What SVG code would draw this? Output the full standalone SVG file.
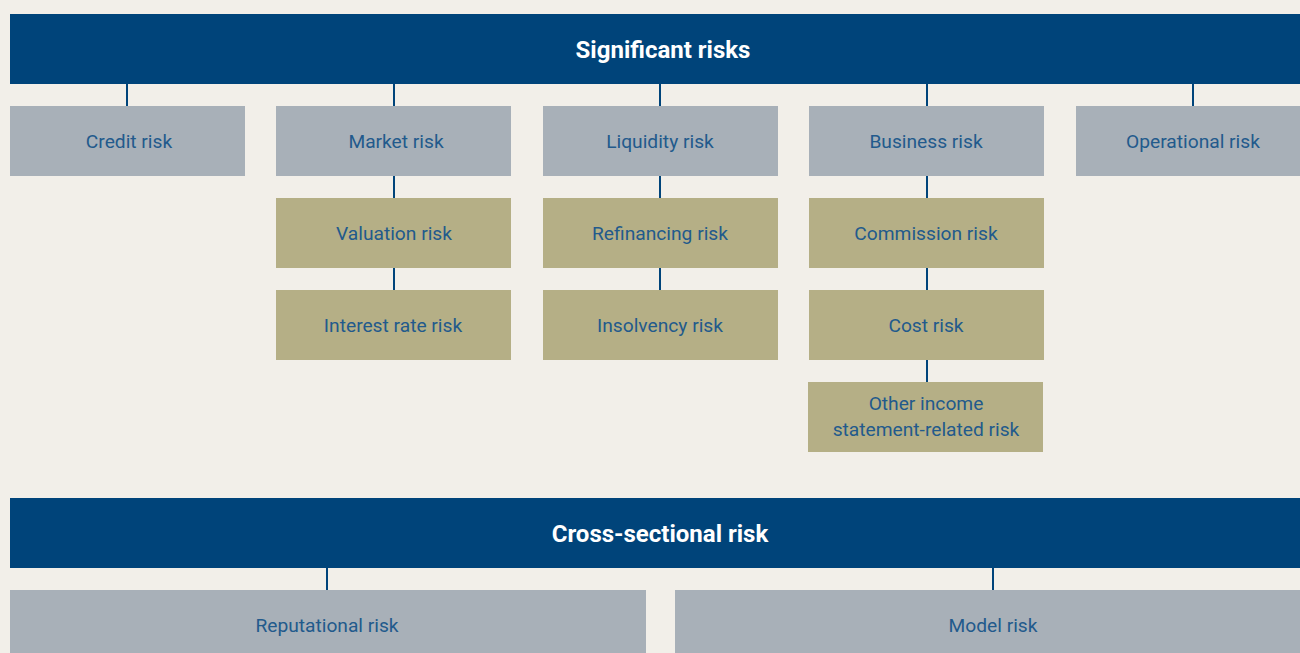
<svg xmlns="http://www.w3.org/2000/svg" width="1300" height="653" viewBox="0 0 1300 653">
<style>
.bar{fill:#00447a}
.g{fill:#a8b0b8}
.o{fill:#b5af86}
.t{font-family:Roboto,"Liberation Sans",sans-serif;font-size:19.2px;fill:#225a8c;text-anchor:middle}
.h{font-family:Roboto,"Liberation Sans",sans-serif;font-size:24px;font-weight:bold;fill:#ffffff;text-anchor:middle}
.c{stroke:#00447a;stroke-width:2;fill:none}
</style>
<rect width="1300" height="653" fill="#f2efe9"/>
<g id="connectors" class="c">
<path d="M127 84V106M394 84V106M660 84V106M927 84V106M1193 84V106"/>
<path d="M394 176V198M394 268V290"/>
<path d="M660 176V198M660 268V290"/>
<path d="M927 176V198M927 268V290M927 360V382"/>
<path d="M327 568V590M993 568V590"/>
</g>
<g id="significant"><rect class="bar" x="10" y="14" width="1290" height="70"/><text class="h" x="663" y="58">Significant risks</text></g>
<g id="credit"><rect class="g" x="10" y="106" width="235" height="70"/><text class="t" x="129" y="148">Credit risk</text></g>
<g id="market"><rect class="g" x="276" y="106" width="235" height="70"/><text class="t" x="396" y="148">Market risk</text></g>
<g id="liquidity"><rect class="g" x="543" y="106" width="235" height="70"/><text class="t" x="660" y="148">Liquidity risk</text></g>
<g id="business"><rect class="g" x="809" y="106" width="235" height="70"/><text class="t" x="926" y="148">Business risk</text></g>
<g id="operational"><rect class="g" x="1076" y="106" width="224" height="70"/><text class="t" x="1193" y="148">Operational risk</text></g>
<g id="valuation"><rect class="o" x="276" y="198" width="235" height="70"/><text class="t" x="394" y="240">Valuation risk</text></g>
<g id="interest"><rect class="o" x="276" y="290" width="235" height="70"/><text class="t" x="393" y="332">Interest rate risk</text></g>
<g id="refinancing"><rect class="o" x="543" y="198" width="235" height="70"/><text class="t" x="660" y="240">Refinancing risk</text></g>
<g id="insolvency"><rect class="o" x="543" y="290" width="235" height="70"/><text class="t" x="660" y="332">Insolvency risk</text></g>
<g id="commission"><rect class="o" x="809" y="198" width="235" height="70"/><text class="t" x="926" y="240">Commission risk</text></g>
<g id="cost"><rect class="o" x="809" y="290" width="235" height="70"/><text class="t" x="926" y="332">Cost risk</text></g>
<g id="other"><rect class="o" x="808" y="382" width="235" height="70"/><text class="t" x="926" y="410">Other income</text><text class="t" x="926" y="436">statement-related risk</text></g>
<g id="cross"><rect class="bar" x="10" y="498" width="1290" height="70"/><text class="h" x="660" y="542">Cross-sectional risk</text></g>
<g id="reputational"><rect class="g" x="10" y="590" width="636" height="63"/><text class="t" x="327" y="632">Reputational risk</text></g>
<g id="model"><rect class="g" x="675" y="590" width="625" height="63"/><text class="t" x="993" y="632">Model risk</text></g>
</svg>
